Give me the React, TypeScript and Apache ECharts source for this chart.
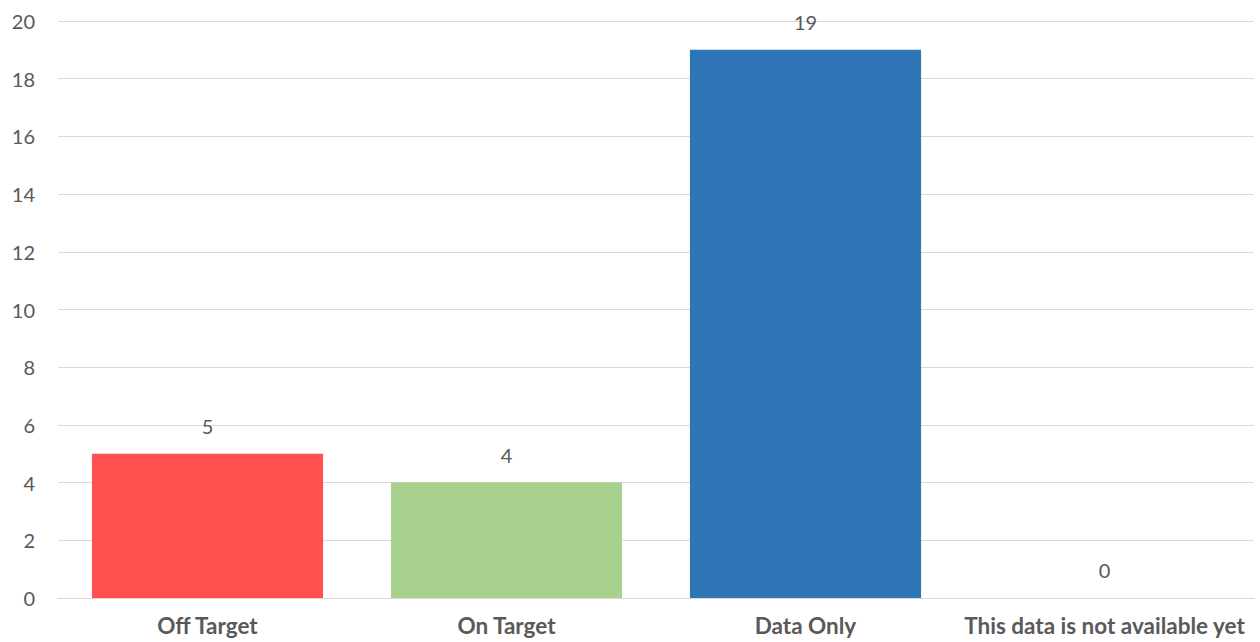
import React, { useEffect, useRef } from "react";
import * as echarts from "echarts";

const categories = ["Off Target", "On Target", "Data Only", "This data is not available yet"];
const values = [5, 4, 19, 0];
const barColors = ["#FF4F4F", "#A9D18E", "#2E75B6", "#7F7F7F"];
const yMin = 0;
const yMax = 20;
const yInterval = 2;

export default function App() {
  const ref = useRef<HTMLDivElement>(null);
  useEffect(() => {
    document.body.style.margin = "0";
    const chart = echarts.init(ref.current!, null, { renderer: "svg" });
    chart.setOption({
      animation: false,
      backgroundColor: "#FFFFFF",
      grid: { left: 58, right: 6, top: 21, bottom: 44 },
      xAxis: {
        type: "category",
        data: categories,
        axisLine: { show: true, lineStyle: { color: "#D9D9D9", width: 1 } },
        axisTick: { show: false },
        axisLabel: {
          color: "#595959",
          fontFamily: "Lato",
          fontWeight: "bold",
          fontSize: 22.5,
          margin: 16,
          interval: 0,
        },
      },
      yAxis: {
        type: "value",
        min: yMin,
        max: yMax,
        interval: yInterval,
        axisLine: { show: false },
        axisTick: { show: false },
        splitLine: { lineStyle: { color: "#D9D9D9", width: 1 } },
        axisLabel: {
          color: "#595959",
          fontFamily: "Lato",
          fontSize: 20,
          margin: 23,
        },
      },
      series: [
        {
          type: "bar",
          barWidth: "77.3%",
          data: values.map((v, i) => ({ value: v, itemStyle: { color: barColors[i] } })),
          label: {
            show: true,
            position: "top",
            distance: 18,
            color: "#595959",
            fontFamily: "Lato",
            fontSize: 20,
          },
        },
      ],
    });
    return () => chart.dispose();
  }, []);
  return <div ref={ref} style={{ width: 1260, height: 642 }} />;
}
